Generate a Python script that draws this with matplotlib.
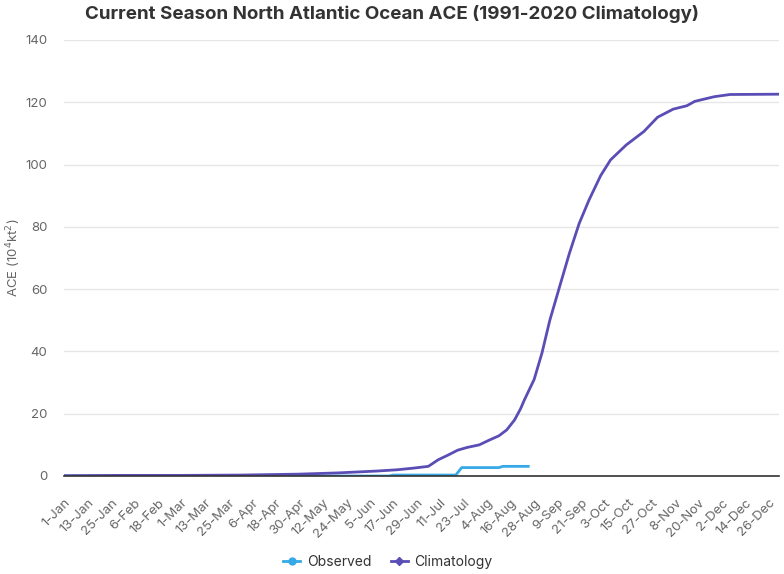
import matplotlib
matplotlib.use("Agg")
import matplotlib.pyplot as plt
from matplotlib.lines import Line2D
import datetime as dt

# ---- data ----
clim_days = [0, 30, 60, 90, 110, 120, 130, 140, 150, 160, 170, 178, 186, 191, 196,
             201, 206, 212, 217, 222, 226, 230, 233, 235, 240, 244, 248, 253, 258,
             263, 268, 274, 279, 282, 287, 296, 303, 311, 318, 322, 332, 340, 365]
clim_vals = [0.1, 0.2, 0.2, 0.3, 0.5, 0.6, 0.8, 1.0, 1.3, 1.6, 2.0, 2.5, 3.1, 5.2, 6.7,
             8.3, 9.2, 10.0, 11.5, 12.9, 14.8, 18.0, 21.5, 24.4, 31.0, 39.5, 50.0, 60.8, 71.5,
             81.1, 88.6, 96.5, 101.5, 103.3, 106.3, 110.6, 115.2, 117.8, 118.9, 120.3, 121.8, 122.5, 122.6]

obs_days = [0, 166, 168, 200, 203, 222, 224, 237]
obs_vals = [0.0, 0.0, 0.3, 0.3, 2.7, 2.7, 3.1, 3.1]

tick_days = list(range(0, 366, 12))
base = dt.date(2024, 1, 1)
tick_labels = [f"{(base + dt.timedelta(days=d)).day}-{(base + dt.timedelta(days=d)).strftime('%b')}"
               for d in tick_days]

yticks = [0, 20, 40, 60, 80, 100, 120, 140]

obs_color = "#36a9e6"
clim_color = "#5a4db5"
text_color = "#666666"

plt.rcParams['font.family'] = ['Inter', 'DejaVu Sans']

fig = plt.figure(figsize=(7.84, 5.74), dpi=100)
ax = fig.add_axes([64/784, 1 - 476/574, (779 - 64)/784, (476 - 40)/574])

ax.plot(obs_days, obs_vals, color=obs_color, lw=2, zorder=3)
ax.plot(clim_days, clim_vals, color=clim_color, lw=2, zorder=4)

ax.set_xlim(0, 365)
ax.set_ylim(0, 140)
ax.set_yticks(yticks)
ax.set_yticklabels([str(v) for v in yticks], color=text_color, fontsize=9.5)
ax.set_xticks(tick_days)
ax.set_xticklabels(tick_labels, rotation=45, ha='right', rotation_mode='anchor',
                   color=text_color, fontsize=9.5)
ax.tick_params(axis='both', length=0)
ax.tick_params(axis='y', pad=12)
ax.tick_params(axis='x', pad=15)
ax.grid(axis='y', color='#e6e6e6', lw=1)
ax.set_axisbelow(True)
for s in ['top', 'right', 'left']:
    ax.spines[s].set_visible(False)
ax.spines['bottom'].set_color('#333333')
ax.spines['bottom'].set_linewidth(1.2)
ax.spines['bottom'].set_zorder(5)

ax.set_ylabel("ACE (10$^4$kt$^2$)", color=text_color, fontsize=9.5)
ax.yaxis.set_label_coords((23 - 64) / 715, 0.5)

fig.text(0.5, 1 - 14/574, "Current Season North Atlantic Ocean ACE (1991-2020 Climatology)",
         ha='center', va='center', fontsize=13.5, fontweight='bold', color='#333333')

handles = [Line2D([0], [0], color=obs_color, lw=2, marker='o', markersize=5),
           Line2D([0], [0], color=clim_color, lw=2, marker='D', markersize=4)]
fig.legend(handles, ["Observed", "Climatology"], loc='center', bbox_to_anchor=(0.495, 1 - 562/574),
           ncol=2, frameon=False, fontsize=10, handlelength=1.2, handletextpad=0.5,
           columnspacing=1.4, labelcolor='#333333')

fig.savefig("out.png", dpi=100)
